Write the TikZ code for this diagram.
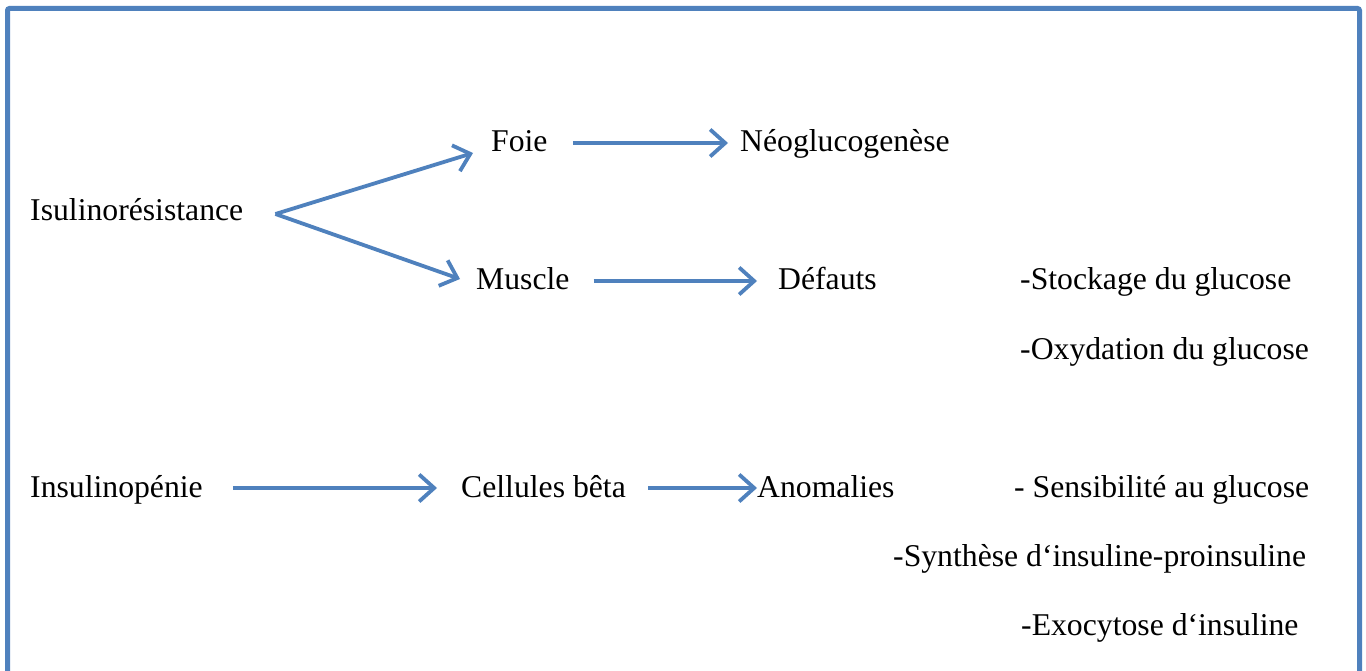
\documentclass[tikz,border=0pt]{standalone}
\usepackage{fontspec}
\setmainfont{Liberation Serif}
\usetikzlibrary{arrows.meta}
\definecolor{frameblue}{HTML}{4F81BD}
\begin{document}
\begin{tikzpicture}[x=1pt,y=-1pt,
  lbl/.style={anchor=base west,inner sep=0pt,text height=24pt,text depth=6pt,
    font=\fontsize{31.7}{38}\selectfont},
  arr/.style={draw=frameblue,line width=3.8pt,
    -{Straight Barb[length=15pt,width=27pt]}}]
  \clip (0,0) rectangle (1366,671);
  % outer frame (its lower edge lies below the visible area)
  \draw[frameblue,line width=5pt,rounded corners=2pt] (7.5,8.5) rectangle (1359.5,700);

  % first block
  \node[lbl] (isu)  at (30,221)   {Isulinorésistance};
  \node[lbl] (foie) at (491,152)  {Foie};
  \node[lbl] (neo)  at (740,152)  {Néoglucogenèse};
  \node[lbl] (musc) at (476,290)  {Muscle};
  \node[lbl] (def)  at (778,290)  {Défauts};
  \node[lbl] (sto)  at (1020,290) {-Stockage du glucose};
  \node[lbl] (oxy)  at (1020,359) {-Oxydation du glucose};

  % second block
  \node[lbl] (ipen) at (30,497)   {Insulinopénie};
  \node[lbl] (beta) at (461,497)  {Cellules bêta};
  \node[lbl] (anom) at (757,497)  {Anomalies};
  \node[lbl] (sens) at (1014,497) {- Sensibilité au glucose};
  \node[lbl] (syn)  at (893,566)  {-Synthèse d‘insuline-proinsuline};
  \node[lbl] (exo)  at (1021,635) {-Exocytose d‘insuline};

  % connectors
  \coordinate (apex) at ([xshift=32pt,yshift=-2pt]isu.east);
  \draw[arr] (apex) -- ([xshift=-18pt,yshift=-10pt]foie.west);
  \draw[arr] (apex) -- ([xshift=-16pt,yshift=2pt]musc.west);
  \draw[arr,shorten <=25pt,shorten >=12pt] (foie.east) -- (neo.west);
  \draw[arr,shorten <=24pt,shorten >=21pt] (musc.east) -- (def.west);
  \draw[arr,shorten <=30pt,shorten >=24pt] (ipen.east) -- (beta.west);
  \draw[arr,shorten <=22pt,shorten >=0pt] (beta.east) -- (anom.west);
\end{tikzpicture}
\end{document}
